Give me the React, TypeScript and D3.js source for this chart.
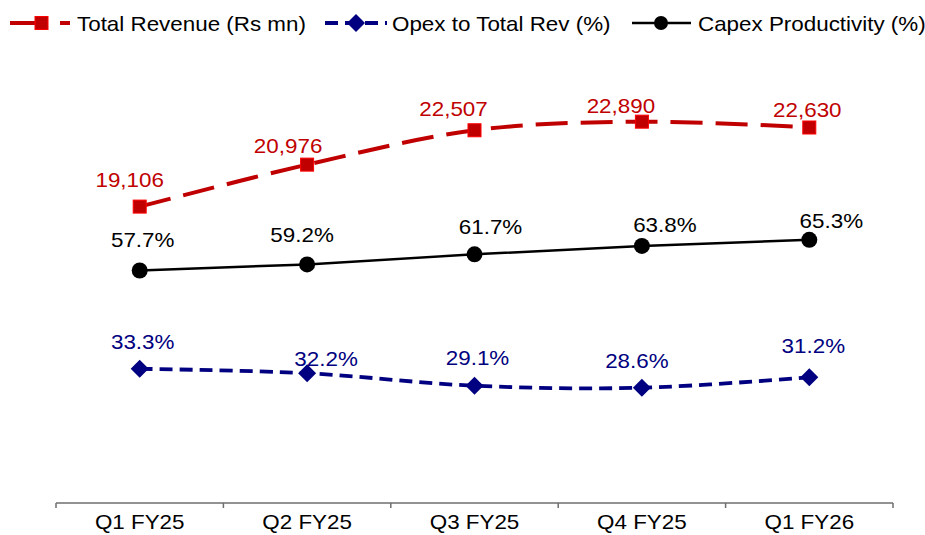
import React from "react";
import * as d3 from "d3";

const categories = ["Q1 FY25", "Q2 FY25", "Q3 FY25", "Q4 FY25", "Q1 FY26"];
const revenue = [19106, 20976, 22507, 22890, 22630];
const opexPct = [33.3, 32.2, 29.1, 28.6, 31.2];
const capexPct = [57.7, 59.2, 61.7, 63.8, 65.3];

// label offsets (layout only)
const revLabelOff = [[-10, -20], [-19, -12], [-21, -14], [-21, -9], [-2, -11]];
const capexLabelOff = [[3, -23], [-5, -22], [16, -20], [23, -14], [22, -12]];
const opexLabelOff = [[3, -20], [19, -7], [3, -21], [-5, -20], [4, -24]];

const W = 925;
const H = 535;
const FONT = "'Liberation Sans', Arial, sans-serif";
const SX = 1.12;

const RED = "#C00000";
const NAVY = "#000080";

function T({ x, y, children, fill = "#000", size = 20, anchor = "middle" }: any) {
  return (
    <text
      transform={`translate(${x},${y}) scale(${SX},1)`}
      fontFamily={FONT}
      fontSize={size}
      fill={fill}
      textAnchor={anchor}
    >
      {children}
    </text>
  );
}

export default function App() {
  const x = d3.scaleBand<string>().domain(categories).range([56, 893]);
  const cx = (c: string) => (x(c) as number) + x.bandwidth() / 2;
  const yPct = d3.scaleLinear().domain([0, 100]).range([503, 100]);
  const yRev = d3.scaleLinear().domain([5900, 23900]).range([503, 99]);

  const revPts: [number, number][] = categories.map((c, i) => [cx(c), yRev(revenue[i])]);
  const opexPts: [number, number][] = categories.map((c, i) => [cx(c), yPct(opexPct[i])]);
  const capexPts: [number, number][] = categories.map((c, i) => [cx(c), yPct(capexPct[i])]);

  const smooth = d3.line().curve(d3.curveCardinal.tension(0));
  const straight = d3.line();

  const fmt = d3.format(",");
  const ticks = [...categories.map((c) => x(c) as number), 893];

  return (
    <svg
      width={W}
      height={H}
      style={{ position: "absolute", left: 0, top: 0, background: "#fff" }}
    >
      <rect width={W} height={H} fill="#fff" />
      {/* axis */}
      <line x1={56} x2={893} y1={503} y2={503} stroke="#6e6e6e" strokeWidth={1.5} />
      {ticks.map((t, i) => (
        <line key={i} x1={t} x2={t} y1={503} y2={508} stroke="#6e6e6e" strokeWidth={1.5} />
      ))}
      {categories.map((c) => (
        <T key={c} x={cx(c)} y={529}>
          {c}
        </T>
      ))}

      {/* capex */}
      <path d={straight(capexPts) || ""} fill="none" stroke="#000" strokeWidth={2.5} />
      {capexPts.map((p, i) => (
        <circle key={i} cx={p[0]} cy={p[1]} r={8} fill="#000" />
      ))}

      {/* opex */}
      <path
        d={smooth(opexPts) || ""}
        fill="none"
        stroke={NAVY}
        strokeWidth={3.8}
        strokeDasharray="13,7"
      />
      {opexPts.map((p, i) => (
        <path
          key={i}
          d={`M${p[0]},${p[1] - 9}L${p[0] + 9},${p[1]}L${p[0]},${p[1] + 9}L${p[0] - 9},${p[1]}Z`}
          fill={NAVY}
        />
      ))}

      {/* revenue */}
      <path
        d={smooth(revPts) || ""}
        fill="none"
        stroke={RED}
        strokeWidth={4}
        strokeDasharray="32,13"
      />
      {revPts.map((p, i) => (
        <rect
          key={i}
          x={p[0] - 6.5}
          y={p[1] - 6.5}
          width={13}
          height={13}
          fill={RED}
          stroke="#FF0000"
          strokeWidth={1}
        />
      ))}

      {/* labels */}
      {revPts.map((p, i) => (
        <T key={"r" + i} x={p[0] + revLabelOff[i][0]} y={p[1] + revLabelOff[i][1]} fill={RED}>
          {fmt(revenue[i])}
        </T>
      ))}
      {capexPts.map((p, i) => (
        <T key={"c" + i} x={p[0] + capexLabelOff[i][0]} y={p[1] + capexLabelOff[i][1]}>
          {capexPct[i].toFixed(1) + "%"}
        </T>
      ))}
      {opexPts.map((p, i) => (
        <T key={"o" + i} x={p[0] + opexLabelOff[i][0]} y={p[1] + opexLabelOff[i][1]} fill={NAVY}>
          {opexPct[i].toFixed(1) + "%"}
        </T>
      ))}

      {/* legend */}
      <g>
        <line x1={10} x2={40} y1={23} y2={23} stroke={RED} strokeWidth={4} />
        <line x1={60} x2={70} y1={23} y2={23} stroke={RED} strokeWidth={4} />
        <rect x={35} y={16.5} width={13} height={13} fill={RED} stroke="#FF0000" strokeWidth={1} />
        <T x={77} y={31} anchor="start">
          Total Revenue (Rs mn)
        </T>

        <line x1={325} x2={387} y1={23} y2={23} stroke={NAVY} strokeWidth={3.8} strokeDasharray="13,7" />
        <path d="M356,14L365,23L356,32L347,23Z" fill={NAVY} />
        <T x={392} y={31} anchor="start">
          Opex to Total Rev (%)
        </T>

        <line x1={632} x2={691} y1={23} y2={23} stroke="#000" strokeWidth={2.5} />
        <circle cx={661} cy={23} r={7} fill="#000" />
        <T x={698} y={31} anchor="start">
          Capex Productivity (%)
        </T>
      </g>
    </svg>
  );
}
